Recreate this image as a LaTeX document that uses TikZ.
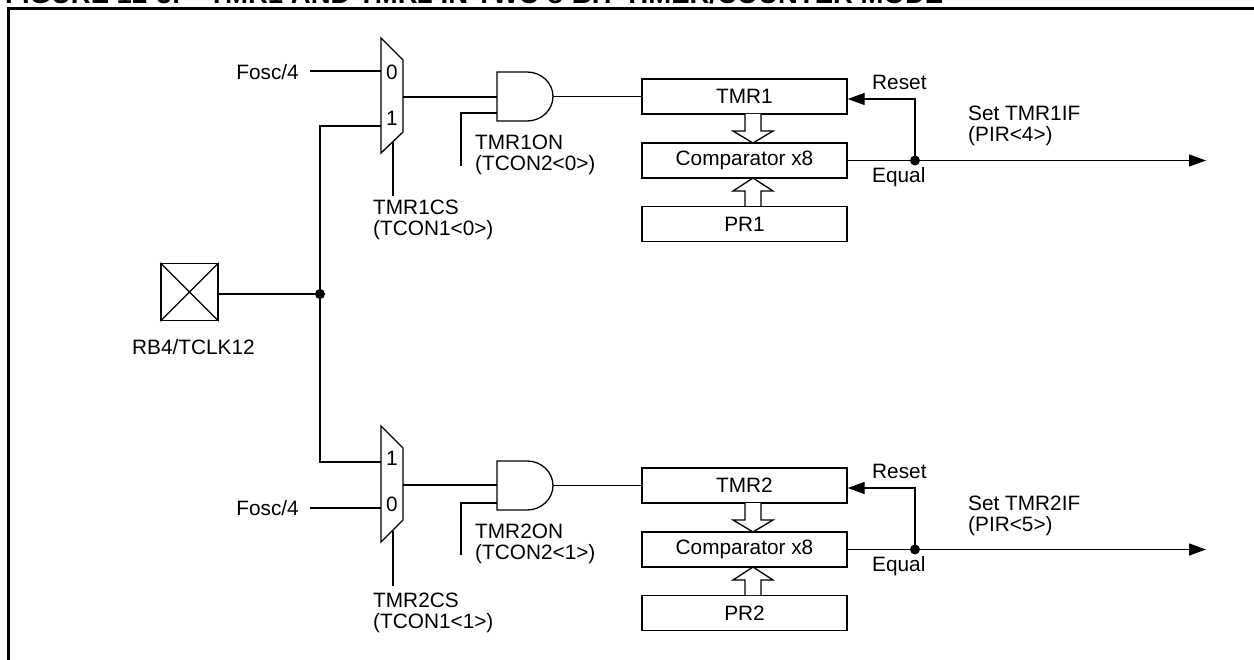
\documentclass[tikz,border=0pt]{standalone}
\usepackage{fontspec}
\setmainfont{Liberation Sans}
\usetikzlibrary{arrows.meta}
\tikzset{
  wire/.style={line width=1.3pt},
  txt/.style={font=\fontsize{20.8}{21.5}\selectfont, inner sep=0pt, align=left},
  regbox/.style={draw, line width=1.3pt, minimum width=205pt, minimum height=35pt, inner sep=0pt, font=\fontsize{20.8}{21.5}\selectfont},
  hollow/.style={draw, line width=1.3pt, fill=white, line join=miter},
  tip/.style={-{Triangle[length=17pt,width=12pt]}},
  dotj/.style={circle, fill, inner sep=0pt, minimum size=10pt}
}
\begin{document}
\begin{tikzpicture}[x=1pt,y=-1pt]
\useasboundingbox (0,0) rectangle (1254,660);
\clip (0,0) rectangle (1254,660);
% title and frame
\node[anchor=base west, inner sep=0pt, font=\bfseries\fontsize{27.5}{30}\selectfont] (title) at (5,4) {FIGURE 12-3:\quad TMR1 AND TMR2 IN TWO 8-BIT TIMER/COUNTER MODE};
\draw[line width=3pt] (8,662) -- (8,9) -- (1256,9);

% ---------- pin and bus
\node[draw, line width=1.3pt, minimum size=57pt, inner sep=0pt] (pin) at (189.5,292) {};
\draw[wire] (pin.north west) -- (pin.south east) (pin.north east) -- (pin.south west);
\node[txt, anchor=west] (pinlbl) at (132,347) {RB4/TCLK12};
\coordinate (bus) at (320,294);
\draw[wire] (pin.east |- bus) -- (bus);
\coordinate (m1in1) at (381,126);
\coordinate (m2in1) at (381,462);
\draw[wire] (m1in1) -- (320,126) -- (320,462) -- (m2in1);
\node[dotj] (busdot) at (bus) {};

% ---------- top channel
\draw[wire, line join=miter] (381,38) -- (403,60) -- (403,132) -- (381,153) -- cycle;
\node[txt] (m1z) at (392,72) {0};
\node[txt] (m1o) at (392,118) {1};
\node[txt, anchor=east] (fosc1) at (299,72) {Fosc/4};
\draw[wire] (310,71) -- (381,71);
\draw[wire] (393,142) -- (393,196);
\node[txt, anchor=west] (cs1) at (373,220) {TMR1CS\\(TCON1<0>)};
\draw[wire] (403,97) -- (497,97);
\draw[wire] (497,72) -- (527,72) arc[start angle=-90, end angle=90, x radius=26, y radius=24.5] -- (497,121) -- cycle;
\coordinate (and1out) at (553,96.5);
\draw[wire] (461,166) -- (461,113) -- (497,113);
\node[txt, anchor=west] (on1) at (475,155) {TMR1ON\\(TCON2<0>)};
\node[regbox] (tmr1) at (744.5,96.5) {TMR1};
\node[regbox] (cmp1) at (744.5,160.5) {Comparator x8};
\node[regbox] (pr1) at (744.5,224) {PR1};
\draw[wire] (and1out) -- (tmr1.west);
\draw[hollow] (745,114) -- (745,131) -- (733,131) -- (753,143) -- (773,131) -- (761,131) -- (761,114);
\draw[hollow] (745,206) -- (745,191) -- (733,191) -- (753,178) -- (773,191) -- (761,191) -- (761,206);
\coordinate (j1) at (915,160.5);
\coordinate (o1) at (1206,160.5);
\draw[wire, tip] (cmp1.east) -- (o1);
\draw[wire, tip] (j1) -- (915,99) -- (tmr1.east |- 0,99);
\node[dotj] (j1dot) at (j1) {};
\node[txt, anchor=west] (rst1) at (872,82) {Reset};
\node[txt, anchor=west] (eq1) at (872,177) {Equal};
\node[txt, anchor=west] (set1) at (968,126) {Set TMR1IF\\(PIR<4>)};

% ---------- bottom channel
\draw[wire, line join=miter] (381,426) -- (403,448) -- (403,520) -- (381,542) -- cycle;
\node[txt] (m2o) at (392,458) {1};
\node[txt] (m2z) at (392,504) {0};
\node[txt, anchor=east] (fosc2) at (299,508) {Fosc/4};
\draw[wire] (310,508) -- (381,508);
\draw[wire] (393,531) -- (393,586);
\node[txt, anchor=west] (cs2) at (373,613) {TMR2CS\\(TCON1<1>)};
\draw[wire] (403,485) -- (497,485);
\draw[wire] (497,461) -- (527,461) arc[start angle=-90, end angle=90, x radius=26, y radius=24.5] -- (497,510) -- cycle;
\coordinate (and2out) at (553,485.5);
\draw[wire] (461,555) -- (461,503) -- (497,503);
\node[txt, anchor=west] (on2) at (475,544) {TMR2ON\\(TCON2<1>)};
\node[regbox] (tmr2) at (744.5,485.5) {TMR2};
\node[regbox] (cmp2) at (744.5,549.5) {Comparator x8};
\node[regbox] (pr2) at (744.5,613) {PR2};
\draw[wire] (and2out) -- (tmr2.west);
\draw[hollow] (745,503) -- (745,520) -- (733,520) -- (753,532) -- (773,520) -- (761,520) -- (761,503);
\draw[hollow] (745,595) -- (745,580) -- (733,580) -- (753,567) -- (773,580) -- (761,580) -- (761,595);
\coordinate (j2) at (915,549.5);
\coordinate (o2) at (1206,549.5);
\draw[wire, tip] (cmp2.east) -- (o2);
\draw[wire, tip] (j2) -- (915,488) -- (tmr2.east |- 0,488);
\node[dotj] (j2dot) at (j2) {};
\node[txt, anchor=west] (rst2) at (872,471) {Reset};
\node[txt, anchor=west] (eq2) at (872,566) {Equal};
\node[txt, anchor=west] (set2) at (968,516) {Set TMR2IF\\(PIR<5>)};
\end{tikzpicture}
\end{document}
